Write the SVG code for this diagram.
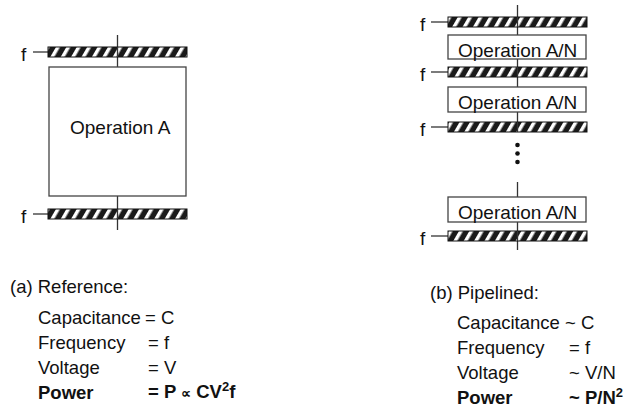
<svg xmlns="http://www.w3.org/2000/svg" width="629" height="409" viewBox="0 0 629 409">
<style>
text{font-family:"Liberation Sans",Arial,sans-serif;fill:#111}
.lbl{font-size:18.5px}
.b{font-weight:bold}
.op{font-size:19px}
.ff{font-size:19px}
.box{fill:#fff;stroke:#444;stroke-width:1.3}
.reg{fill:url(#hatch);stroke:#111;stroke-width:1}
.wire{stroke:#333;stroke-width:1.3;fill:none}
</style>
<defs>
<pattern id="hatch" patternUnits="userSpaceOnUse" width="9" height="9" patternTransform="rotate(30)">
<rect width="9" height="9" fill="#1a1a1a"/>
<rect width="3.5" height="9" fill="#fff"/>
</pattern>
</defs>
<rect width="629" height="409" fill="#fff"/>

<g id="connectors">
<line class="wire" x1="117.5" y1="35" x2="117.5" y2="67"/>
<line class="wire" x1="117.5" y1="196" x2="117.5" y2="230"/>
<line class="wire" x1="33" y1="52" x2="48" y2="52"/>
<line class="wire" x1="33" y1="214" x2="48" y2="214"/>
<line class="wire" x1="517.5" y1="5" x2="517.5" y2="35"/>
<line class="wire" x1="517.5" y1="59" x2="517.5" y2="87"/>
<line class="wire" x1="517.5" y1="112" x2="517.5" y2="132"/>
<line class="wire" x1="517.5" y1="182" x2="517.5" y2="197"/>
<line class="wire" x1="517.5" y1="222" x2="517.5" y2="250"/>
<line class="wire" x1="431" y1="22" x2="448" y2="22"/>
<line class="wire" x1="431" y1="72" x2="448" y2="72"/>
<line class="wire" x1="431" y1="127" x2="448" y2="127"/>
<line class="wire" x1="431" y1="236" x2="448" y2="236"/>
</g>

<g id="regA1"><rect class="reg" x="48" y="47" width="139" height="10"/><line class="wire" x1="117.5" y1="47" x2="117.5" y2="57"/><text class="ff" x="21" y="61">f</text></g>
<g id="opA"><rect class="box" x="49" y="67" width="137" height="129"/><text class="op" x="70" y="134">Operation A</text></g>
<g id="regA2"><rect class="reg" x="48" y="209" width="139" height="10"/><line class="wire" x1="117.5" y1="209" x2="117.5" y2="219"/><text class="ff" x="21" y="223">f</text></g>

<g id="regB1"><rect class="reg" x="448" y="17" width="139" height="10"/><line class="wire" x1="517.5" y1="17" x2="517.5" y2="27"/><text class="ff" x="420" y="31">f</text></g>
<g id="opB1"><rect class="box" x="448" y="35" width="138" height="24"/><text class="op" x="458" y="57">Operation A/N</text></g>
<g id="regB2"><rect class="reg" x="448" y="67" width="139" height="10"/><line class="wire" x1="517.5" y1="67" x2="517.5" y2="77"/><text class="ff" x="420" y="81">f</text></g>
<g id="opB2"><rect class="box" x="448" y="87" width="138" height="25"/><text class="op" x="458" y="109">Operation A/N</text></g>
<g id="regB3"><rect class="reg" x="448" y="122" width="139" height="10"/><line class="wire" x1="517.5" y1="122" x2="517.5" y2="132"/><text class="ff" x="420" y="136">f</text></g>
<g id="dots"><circle cx="517.5" cy="145" r="2.3" fill="#111"/><circle cx="517.5" cy="153.5" r="2.3" fill="#111"/><circle cx="517.5" cy="162" r="2.3" fill="#111"/></g>
<g id="opB3"><rect class="box" x="448" y="197" width="138" height="25"/><text class="op" x="458" y="219">Operation A/N</text></g>
<g id="regB4"><rect class="reg" x="448" y="231" width="139" height="10"/><line class="wire" x1="517.5" y1="231" x2="517.5" y2="241"/><text class="ff" x="420" y="245">f</text></g>

<g id="legendA">
<text class="lbl" x="10" y="293">(a) Reference:</text>
<text class="lbl" x="38" y="324">Capacitance</text><text class="lbl" x="145" y="324">= C</text>
<text class="lbl" x="38" y="349">Frequency</text><text class="lbl" x="148" y="349">= f</text>
<text class="lbl" x="38" y="374">Voltage</text><text class="lbl" x="148" y="374">= V</text>
<text class="lbl b" x="38" y="399">Power</text><text class="lbl b" x="148" y="398">= P <tspan font-size="14">∝</tspan> CV<tspan font-size="13" dy="-7">2</tspan><tspan dy="7">f</tspan></text>
</g>

<g id="legendB">
<text class="lbl" x="430" y="299">(b) Pipelined:</text>
<text class="lbl" x="457" y="329">Capacitance</text><text class="lbl" x="565" y="329">~ C</text>
<text class="lbl" x="457" y="354">Frequency</text><text class="lbl" x="569" y="354">= f</text>
<text class="lbl" x="457" y="379">Voltage</text><text class="lbl" x="569" y="379">~ V/N</text>
<text class="lbl b" x="457" y="404">Power</text><text class="lbl b" x="569" y="404">~ P/N<tspan font-size="13" dy="-7">2</tspan></text>
</g>
</svg>
